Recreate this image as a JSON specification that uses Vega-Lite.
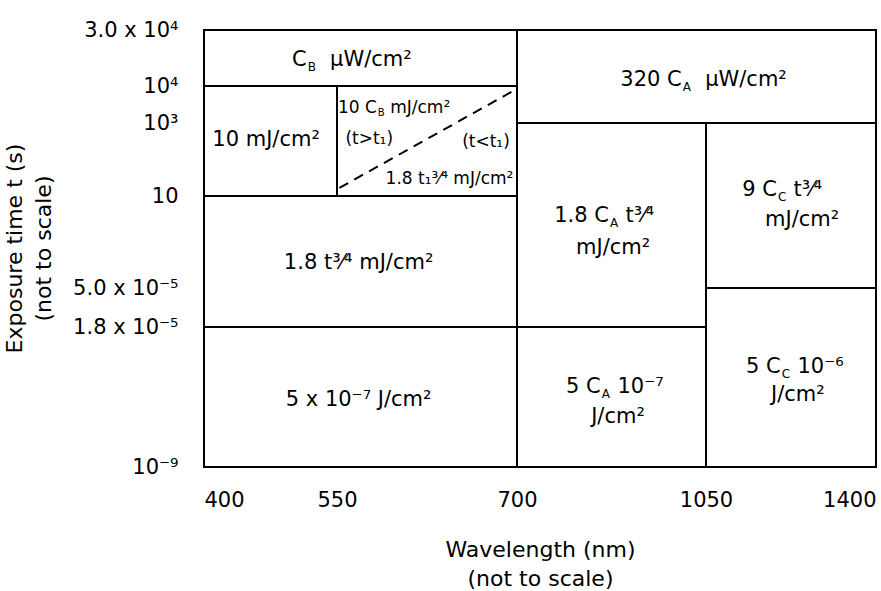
{
  "$schema": "https://vega.github.io/schema/vega-lite/v6.json",
  "width": 672,
  "height": 437,
  "autosize": {"type": "none"},
  "padding": {"left": 204, "top": 30, "right": 5, "bottom": 124},
  "background": "white",
  "config": {
    "view": {"stroke": null},
    "font": "DejaVu Sans",
    "text": {"font": "DejaVu Sans", "color": "black"}
  },
  "datasets": {
    "boxes": [
      {"w": 400, "w2": 700, "t": 10000, "t2": 30000},
      {"w": 400, "w2": 550, "t": 10, "t2": 10000},
      {"w": 550, "w2": 700, "t": 10, "t2": 10000},
      {"w": 400, "w2": 700, "t": 0.000018, "t2": 10},
      {"w": 400, "w2": 700, "t": 1e-9, "t2": 0.000018},
      {"w": 700, "w2": 1400, "t": 1000, "t2": 30000},
      {"w": 700, "w2": 1050, "t": 0.000018, "t2": 1000},
      {"w": 1050, "w2": 1400, "t": 0.00005, "t2": 1000},
      {"w": 700, "w2": 1050, "t": 1e-9, "t2": 0.000018},
      {"w": 1050, "w2": 1400, "t": 1e-9, "t2": 0.00005}
    ],
    "diag": [
      {"w": 552, "w2": 698, "t": 120, "t2": 9000}
    ],
    "labels": [
      {"kind": "c", "w": 470, "t": 770, "text": "10 mJ/cm²"},
      {"kind": "c", "w": 568, "t": 2.72, "text": "1.8 t³⁄⁴ mJ/cm²"},
      {"kind": "c", "w": 568, "t": 0.0000086, "text": "5 x 10⁻⁷ J/cm²"},
      {"kind": "c", "w": 878, "t": 4.35, "text": "mJ/cm²"},
      {"kind": "c", "w": 1248, "t": 7.39, "text": "mJ/cm²"},
      {"kind": "c", "w": 887, "t": 0.0000064, "text": "J/cm²"},
      {"kind": "c", "w": 1239, "t": 0.00000926, "text": "J/cm²"},
      {"kind": "pre", "w": 517, "t": 19300, "text": "C"},
      {"kind": "sub", "w": 517, "t": 19300, "text": "B"},
      {"kind": "post", "w": 517, "t": 19300, "text": "\u200b\u00a0\u00a0μW/cm²"},
      {"kind": "pre", "w": 1007, "t": 12100, "text": "320 C"},
      {"kind": "sub", "w": 1007, "t": 12100, "text": "A"},
      {"kind": "post", "w": 1007, "t": 12100, "text": "\u200b\u00a0\u00a0μW/cm²"},
      {"kind": "pre", "w": 872, "t": 7.83, "text": "1.8 C"},
      {"kind": "sub", "w": 872, "t": 7.83, "text": "A"},
      {"kind": "post", "w": 872, "t": 7.83, "text": "\u200b\u00a0t³⁄⁴"},
      {"kind": "pre", "w": 1198, "t": 91, "text": "9 C"},
      {"kind": "sub", "w": 1198, "t": 91, "text": "C"},
      {"kind": "post", "w": 1198, "t": 91, "text": "\u200b\u00a0t³⁄⁴"},
      {"kind": "pre", "w": 857, "t": 0.0000103, "text": "5 C"},
      {"kind": "sub", "w": 857, "t": 0.0000103, "text": "A"},
      {"kind": "post", "w": 857, "t": 0.0000103, "text": "\u200b\u00a010⁻⁷"},
      {"kind": "pre", "w": 1206, "t": 0.0000129, "text": "5 C"},
      {"kind": "sub", "w": 1206, "t": 0.0000129, "text": "C"},
      {"kind": "post", "w": 1206, "t": 0.0000129, "text": "\u200b\u00a010⁻⁶"},
      {"kind": "spre", "w": 584, "t": 4650, "text": "10 C"},
      {"kind": "ssub", "w": 584, "t": 4650, "text": "B"},
      {"kind": "spost", "w": 584, "t": 4650, "text": "\u200b\u00a0mJ/cm²"},
      {"kind": "sleft", "w": 557, "t": 783, "text": "(t>t₁)"},
      {"kind": "sright", "w": 694, "t": 742, "text": "(t<t₁)"},
      {"kind": "sright", "w": 697, "t": 240, "text": "1.8 t₁³⁄⁴ mJ/cm²"}
    ]
  },
  "encoding": {
    "x": {
      "field": "w",
      "type": "quantitative",
      "scale": {"domain": [400, 550, 700, 1050, 1400], "range": [0, 133, 313, 502, 672], "zero": false, "nice": false},
      "axis": {
        "values": [400, 550, 700, 1050, 1400],
        "format": "d",
        "labelFlush": true,
        "labelPadding": 22,
        "labelFont": "DejaVu Sans",
        "labelFontSize": 21,
        "labelColor": "black",
        "ticks": false,
        "domain": false,
        "grid": false,
        "title": ["Wavelength (nm)", "(not to scale)"],
        "titleFont": "DejaVu Sans",
        "titleFontSize": 22,
        "titleFontWeight": "normal",
        "titleColor": "black",
        "titleLineHeight": 29,
        "titleBaseline": "top",
        "titleY": 72
      }
    },
    "y": {
      "field": "t",
      "type": "quantitative",
      "scale": {"domain": [1e-9, 0.000018, 0.00005, 10, 1000, 10000, 30000], "range": [437, 297, 258, 166, 93, 56, 0], "zero": false, "nice": false},
      "axis": {
        "values": [1e-9, 0.000018, 0.00005, 10, 1000, 10000, 30000],
        "labelExpr": "datum.value == 30000 ? '3.0 x 10⁴' : datum.value == 10000 ? '10⁴' : datum.value == 1000 ? '10³' : datum.value == 10 ? '10' : datum.value == 0.00005 ? '5.0 x 10⁻⁵' : datum.value == 0.000018 ? '1.8 x 10⁻⁵' : '10⁻⁹'",
        "labelPadding": 26,
        "labelFont": "DejaVu Sans",
        "labelFontSize": 21,
        "labelColor": "black",
        "labelOverlap": false,
        "ticks": false,
        "domain": false,
        "grid": false,
        "title": ["Exposure time t (s)", "(not to scale)"],
        "titleFont": "DejaVu Sans",
        "titleFontSize": 22,
        "titleFontWeight": "normal",
        "titleColor": "black",
        "titleLineHeight": 29,
        "titleAngle": -90,
        "titleAlign": "center",
        "titleBaseline": "middle",
        "titleX": -190,
        "titleY": 218
      }
    }
  },
  "layer": [
    {
      "data": {"name": "boxes"},
      "mark": {"type": "rect", "fill": "white", "stroke": "black", "strokeWidth": 2},
      "encoding": {"x2": {"field": "w2"}, "y2": {"field": "t2"}}
    },
    {
      "data": {"name": "diag"},
      "mark": {"type": "rule", "color": "black", "strokeWidth": 2, "strokeDash": [10, 7]},
      "encoding": {"x2": {"field": "w2"}, "y2": {"field": "t2"}}
    },
    {
      "data": {"name": "labels"},
      "transform": [{"filter": "datum.kind == 'c'"}],
      "mark": {"type": "text", "align": "center", "baseline": "middle", "fontSize": 21},
      "encoding": {"text": {"field": "text"}}
    },
    {
      "data": {"name": "labels"},
      "transform": [{"filter": "datum.kind == 'pre'"}],
      "mark": {"type": "text", "align": "right", "baseline": "middle", "fontSize": 21, "dx": -1},
      "encoding": {"text": {"field": "text"}}
    },
    {
      "data": {"name": "labels"},
      "transform": [{"filter": "datum.kind == 'sub'"}],
      "mark": {"type": "text", "align": "left", "baseline": "middle", "fontSize": 12, "dy": 7},
      "encoding": {"text": {"field": "text"}}
    },
    {
      "data": {"name": "labels"},
      "transform": [{"filter": "datum.kind == 'post'"}],
      "mark": {"type": "text", "align": "left", "baseline": "middle", "fontSize": 21, "dx": 9},
      "encoding": {"text": {"field": "text"}}
    },
    {
      "data": {"name": "labels"},
      "transform": [{"filter": "datum.kind == 'spre'"}],
      "mark": {"type": "text", "align": "right", "baseline": "middle", "fontSize": 17, "dx": -1},
      "encoding": {"text": {"field": "text"}}
    },
    {
      "data": {"name": "labels"},
      "transform": [{"filter": "datum.kind == 'ssub'"}],
      "mark": {"type": "text", "align": "left", "baseline": "middle", "fontSize": 10, "dy": 5},
      "encoding": {"text": {"field": "text"}}
    },
    {
      "data": {"name": "labels"},
      "transform": [{"filter": "datum.kind == 'spost'"}],
      "mark": {"type": "text", "align": "left", "baseline": "middle", "fontSize": 17, "dx": 7},
      "encoding": {"text": {"field": "text"}}
    },
    {
      "data": {"name": "labels"},
      "transform": [{"filter": "datum.kind == 'sleft'"}],
      "mark": {"type": "text", "align": "left", "baseline": "middle", "fontSize": 17},
      "encoding": {"text": {"field": "text"}}
    },
    {
      "data": {"name": "labels"},
      "transform": [{"filter": "datum.kind == 'sright'"}],
      "mark": {"type": "text", "align": "right", "baseline": "middle", "fontSize": 17},
      "encoding": {"text": {"field": "text"}}
    }
  ]
}
